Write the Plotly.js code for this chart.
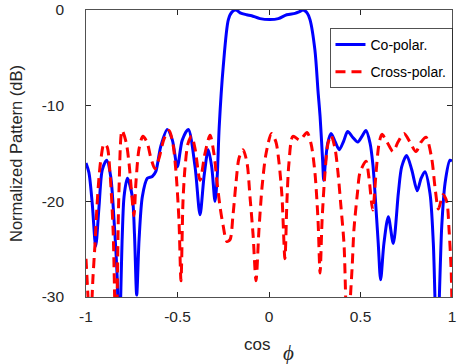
<!DOCTYPE html>
<html>
<head>
<meta charset="utf-8">
<script src="https://cdn.plot.ly/plotly-3.0.1.min.js"></script>
<style>html,body{margin:0;padding:0;background:#fff;}#chart{width:471px;height:364px;}</style>
</head>
<body>
<div id="chart"></div>
<script>
// Co-polar pattern (blue, solid)
const coX = [
  -1.000,-0.984,-0.966,-0.947,-0.929,-0.911,-0.887,-0.865,-0.847,-0.829,-0.820,-0.802,-0.792,-0.774,
  -0.747,-0.735,-0.723,-0.710,-0.692,-0.665,-0.638,-0.619,-0.592,-0.556,-0.528,-0.501,-0.474,-0.441,
  -0.404,-0.377,-0.355,-0.332,-0.313,-0.295,-0.283,-0.272,-0.250,-0.222,-0.202,-0.180,-0.158,-0.122,
  -0.095,-0.049,0.005,0.051,0.097,0.142,0.164,0.187,0.208,0.224,0.251,0.268,0.279,0.293,0.299,0.309,
  0.321,0.339,0.362,0.384,0.408,0.430,0.457,0.485,0.508,0.530,0.552,0.568,0.579,0.597,0.610,0.628,
  0.652,0.679,0.707,0.725,0.752,0.780,0.810,0.831,0.852,0.880,0.898,0.918,0.944,0.962,0.989,1.000
];
const coY = [
  -16.0,-17.0,-20.2,-24.7,-20.6,-16.7,-15.7,-17.4,-21.9,-28.2,-36.0,-23.7,-19.5,-17.6,
  -19.5,-23.5,-29.8,-24.0,-19.5,-17.6,-17.4,-16.9,-14.3,-12.5,-13.6,-16.4,-13.6,-12.5,
  -16.4,-21.4,-17.4,-14.6,-16.4,-20.0,-17.4,-12.2,-5.9,-1.0,-0.2,0.0,-0.3,-0.5,
  -0.6,-0.9,-1.0,-0.9,-0.5,-0.35,-0.2,0.0,-0.3,-1.0,-4.2,-8.5,-11.1,-15.7,-17.8,-15.8,
  -13.9,-12.9,-13.8,-14.6,-13.7,-12.7,-13.3,-13.8,-13.2,-12.6,-13.9,-16.2,-19.1,-24.4,-28.2,-24.4,
  -21.6,-24.4,-19.1,-16.4,-15.2,-16.7,-18.9,-17.6,-16.9,-19.2,-24.4,-36.0,-22.6,-18.1,-15.7,-15.8
];
// Cross-polar pattern (red, dashed)
const crossX = [
  -1.000,-0.989,-0.978,-0.962,-0.951,-0.940,-0.929,-0.918,-0.902,-0.885,-0.869,-0.852,-0.836,-0.820,
  -0.803,-0.781,-0.765,-0.749,-0.738,-0.727,-0.710,-0.689,-0.667,-0.645,-0.623,-0.601,-0.574,-0.546,
  -0.525,-0.508,-0.492,-0.481,-0.470,-0.459,-0.443,-0.423,-0.404,-0.377,-0.350,-0.322,-0.301,-0.284,
  -0.268,-0.251,-0.230,-0.213,-0.197,-0.180,-0.164,-0.142,-0.120,-0.104,-0.087,-0.071,-0.055,-0.038,
  -0.016,0.014,0.038,0.055,0.071,0.087,0.098,0.109,0.131,0.169,0.208,0.230,0.251,0.268,0.279,0.290,
  0.306,0.322,0.339,0.361,0.377,0.393,0.410,0.428,0.454,0.464,0.484,0.497,0.530,0.546,0.567,0.585,
  0.601,0.617,0.645,0.678,0.705,0.738,0.770,0.803,0.831,0.858,0.889,0.907,0.926,0.951,0.971,0.984,
  0.995,1.000
];
const crossY = [
  -26.0,-30.0,-34.0,-28.0,-24.5,-20.5,-17.5,-15.5,-14.0,-14.3,-17.0,-23.0,-35.0,-19.0,
  -12.6,-13.8,-16.0,-19.5,-21.5,-18.0,-14.5,-13.2,-13.8,-15.5,-16.6,-15.5,-13.5,-12.6,
  -14.0,-17.0,-22.0,-28.3,-20.0,-16.5,-14.0,-13.2,-14.5,-17.8,-15.0,-13.1,-15.0,-18.0,
  -20.5,-22.5,-24.2,-24.0,-21.5,-18.0,-15.5,-14.6,-16.0,-19.5,-23.5,-28.3,-23.0,-18.5,
  -15.0,-12.9,-13.8,-16.0,-19.5,-26.0,-20.0,-16.0,-13.2,-13.6,-12.8,-14.0,-17.0,-22.0,-27.5,-22.0,
  -17.0,-14.0,-13.1,-14.5,-17.0,-20.5,-24.5,-34.0,-27.0,-23.0,-19.0,-17.0,-15.8,-17.5,-20.9,-17.0,
  -14.0,-13.0,-13.8,-14.8,-13.8,-12.9,-13.8,-14.8,-13.8,-13.3,-15.5,-18.5,-20.8,-19.3,-20.0,-23.0,
  -27.0,-31.0
];
const xTicks = [-1, -0.5, 0, 0.5, 1];
const xTickText = ['-1', '-0.5', '0', '0.5', '1'];
const yTicks = [-30, -20, -10, 0];
const yTickText = ['-30', '-20', '-10', '0'];
const seriesNames = ['Co-polar.', 'Cross-polar.'];

const axisColor = '#262626';
const traces = [
  {x: coX, y: coY, name: seriesNames[0], type: 'scatter', mode: 'lines', legendgroup: 'a',
   line: {color: '#0000FF', width: 3, shape: 'spline', smoothing: 0.8}},
  {x: crossX, y: crossY, name: seriesNames[1], type: 'scatter', mode: 'lines', legendgroup: 'b',
   line: {color: '#FF0000', width: 3, dash: '10px,6px', shape: 'spline', smoothing: 0.8}}
];
const layout = {
  width: 471, height: 364,
  margin: {l: 86, r: 18.5, t: 10, b: 67},
  paper_bgcolor: '#ffffff', plot_bgcolor: '#ffffff',
  font: {family: 'Liberation Sans, Arial, sans-serif', color: axisColor, size: 15.5},
  showlegend: true,
  legend: {x: 0.6658, y: 0.937, xanchor: 'left', yanchor: 'top', bgcolor: '#ffffff',
           bordercolor: axisColor, borderwidth: 0.8, font: {size: 14, color: '#000000'},
           traceorder: 'grouped', tracegroupgap: 6, itemwidth: 30},
  xaxis: {range: [-1, 1], tickvals: xTicks, ticktext: xTickText, ticks: 'inside', ticklen: 5,
          tickcolor: axisColor, showline: true, linecolor: axisColor, linewidth: 0.8, mirror: 'ticks',
          showgrid: false, zeroline: false, ticklabelstandoff: 6, fixedrange: true},
  yaxis: {range: [-30, 0], tickvals: yTicks, ticktext: yTickText, ticks: 'inside', ticklen: 5,
          tickcolor: axisColor, showline: true, linecolor: axisColor, linewidth: 0.8, mirror: 'ticks',
          showgrid: false, zeroline: false, ticklabelstandoff: 18, fixedrange: true,
          title: {text: 'Normalized Pattern (dB)', font: {size: 16.5}, standoff: 14}},
  annotations: [
    {text: 'cos', xref: 'paper', yref: 'paper', x: 0.4666, y: 0, xanchor: 'center', yanchor: 'middle',
     yshift: -47, showarrow: false, font: {size: 17, color: axisColor}},
    {text: 'ϕ', xref: 'paper', yref: 'paper', x: 0.554, y: 0, xanchor: 'center', yanchor: 'middle',
     yshift: -56, showarrow: false, font: {size: 21, family: 'Liberation Serif, Times New Roman, serif', color: axisColor, style: 'italic'}}
  ]
};
Plotly.newPlot('chart', traces, layout, {staticPlot: true, displayModeBar: false});
</script>
</body>
</html>
